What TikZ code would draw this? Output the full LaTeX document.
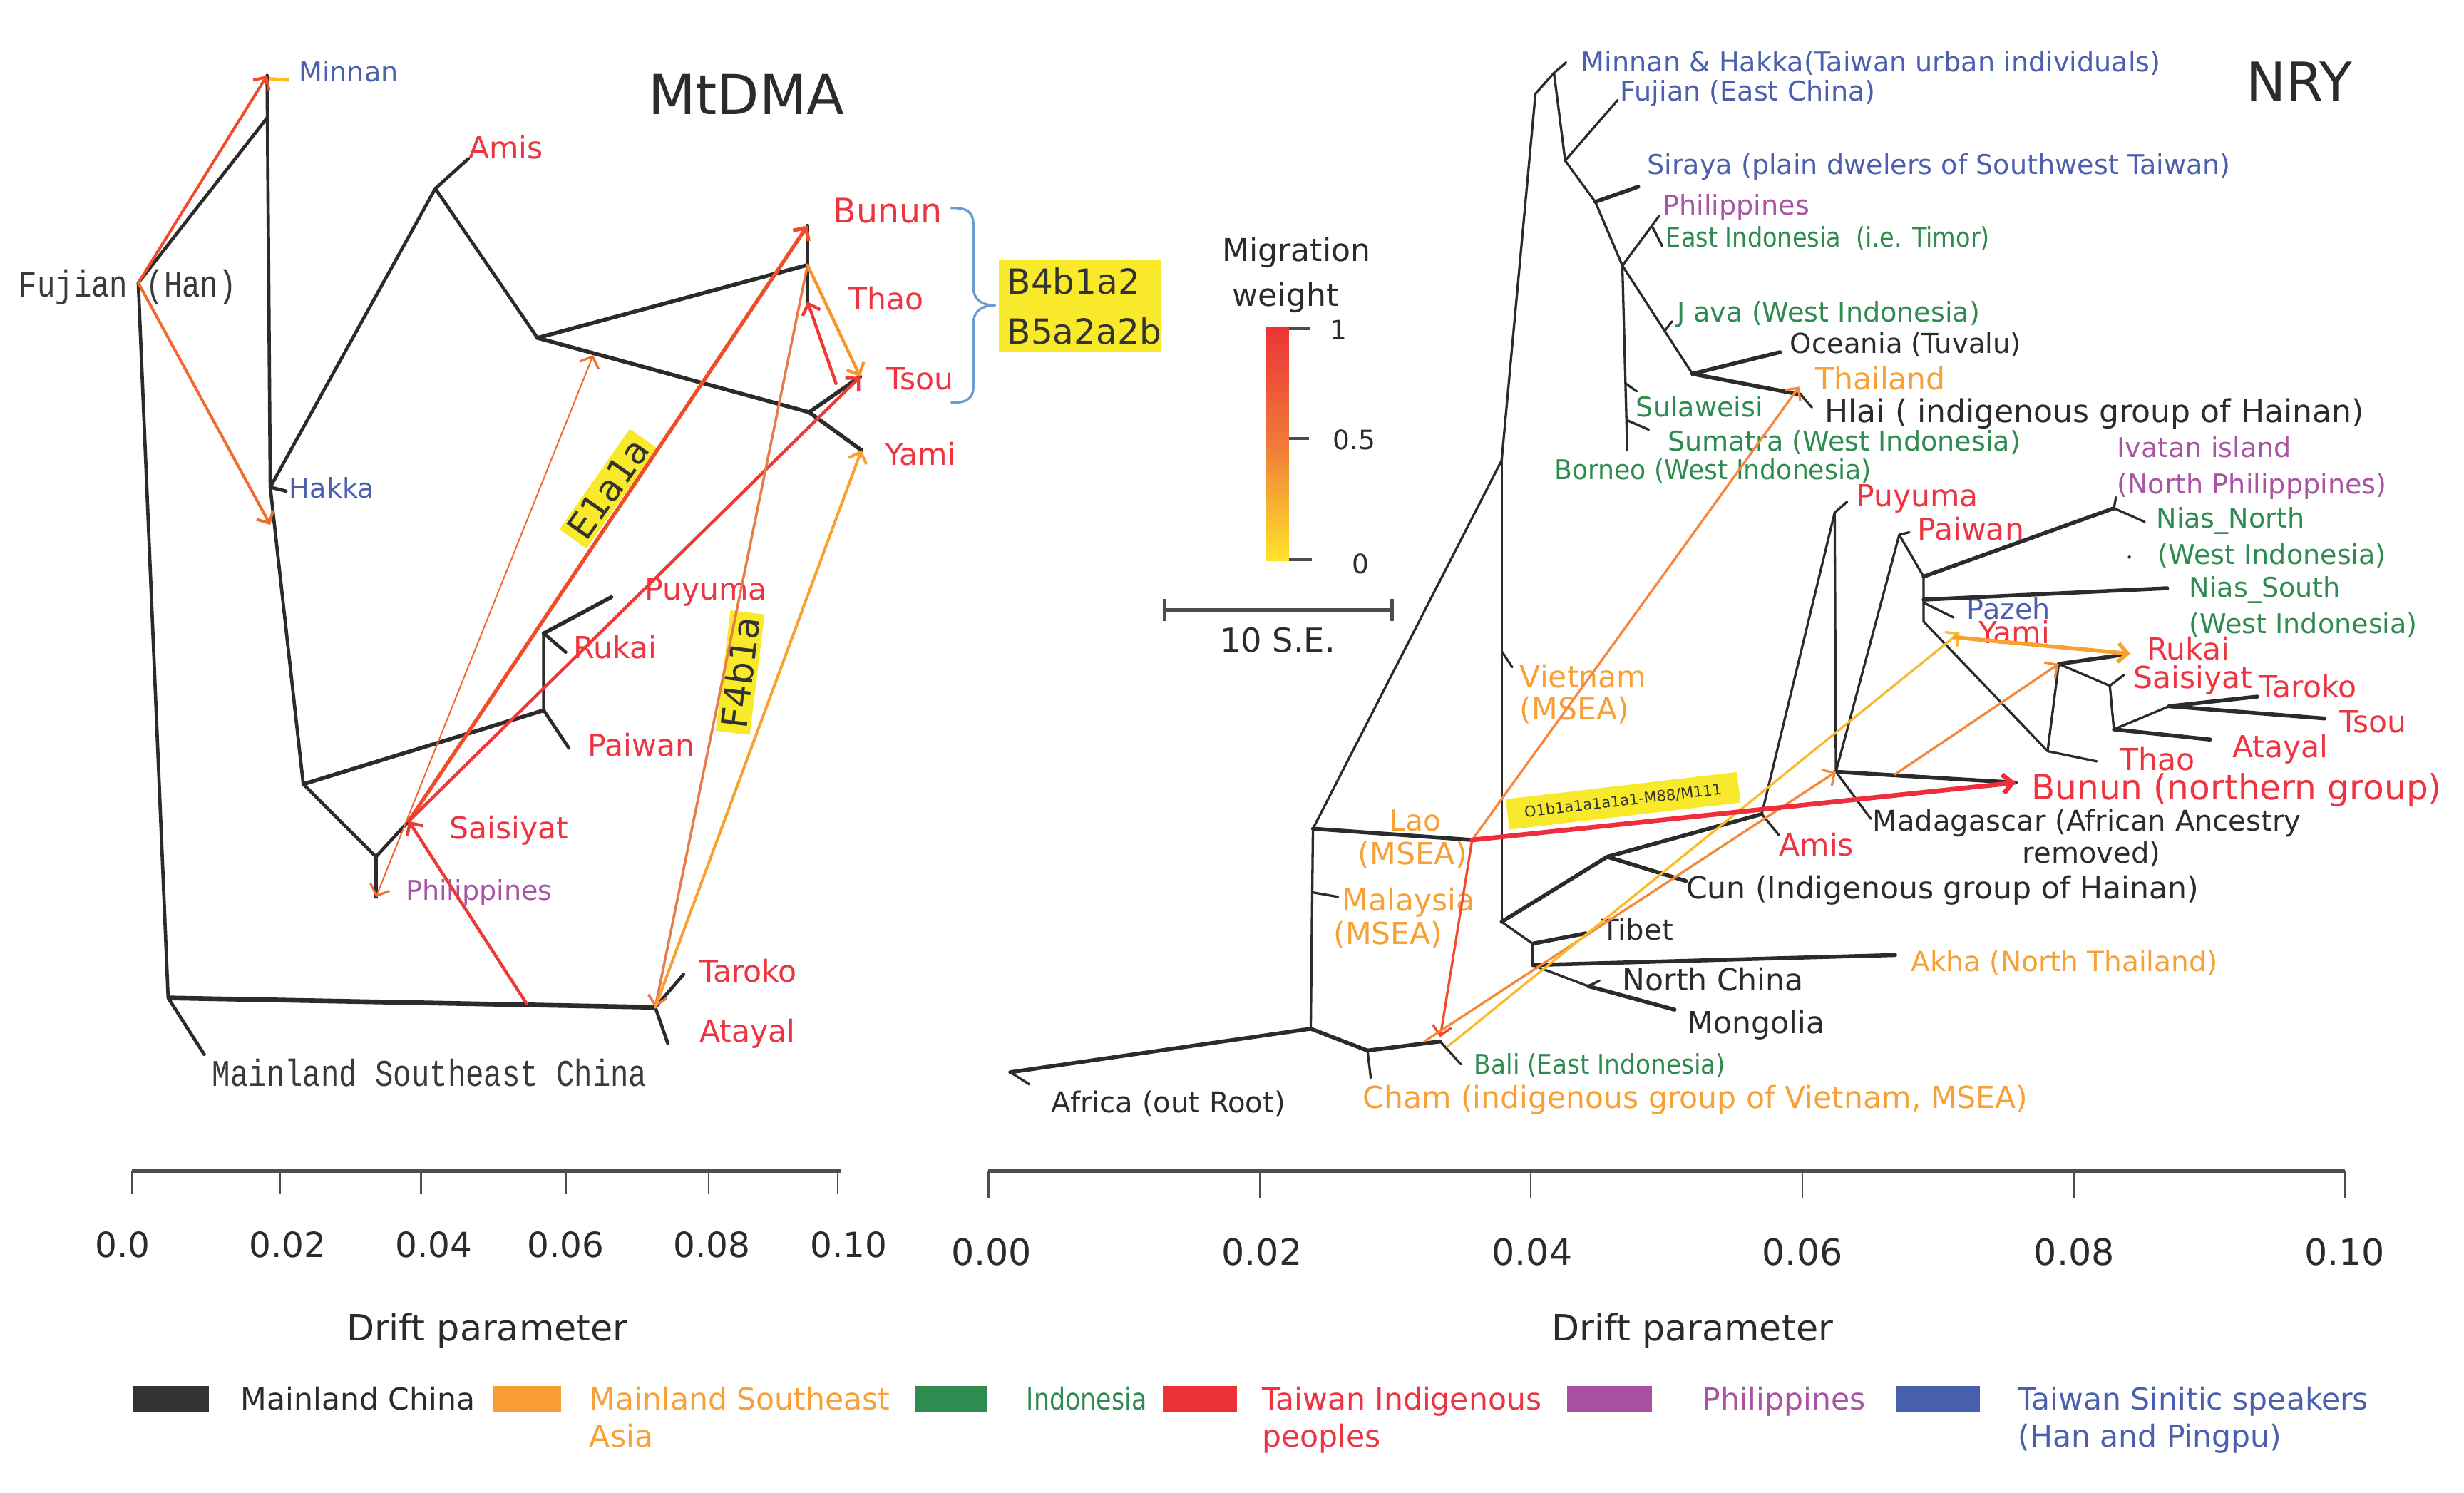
\documentclass[tikz,border=0pt]{standalone}
\usepackage{fontspec}
\usepackage{graphicx}
\setmainfont{DejaVu Sans}
\newfontfamily\monof[FakeStretch=0.8]{Liberation Mono}
\usetikzlibrary{arrows.meta}
\definecolor{treec}{HTML}{2B2B2B}
\definecolor{blk}{HTML}{2B2B2B}
\definecolor{monoc}{HTML}{3A3A3A}
\definecolor{twred}{HTML}{EE3440}
\definecolor{msea}{HTML}{F7A035}
\definecolor{indo}{HTML}{2E8B4F}
\definecolor{phil}{HTML}{A853A3}
\definecolor{sinb}{HTML}{4A60AE}
\definecolor{hl}{HTML}{F8EA2B}
\definecolor{hlt}{HTML}{333333}
\definecolor{brc}{HTML}{6B9BD2}
\definecolor{axc}{HTML}{4D4D4D}
\definecolor{lgBlk}{HTML}{333333}
\definecolor{lgOr}{HTML}{F89D35}
\definecolor{lgGr}{HTML}{2F8B50}
\definecolor{lgRd}{HTML}{ED3237}
\definecolor{lgPu}{HTML}{A8509F}
\definecolor{lgBl}{HTML}{4660AB}
\definecolor{cR}{HTML}{EE2E3A}
\definecolor{cRa}{HTML}{EE3A36}
\definecolor{cOR}{HTML}{F04C2C}
\definecolor{cOR2}{HTML}{F26A2C}
\definecolor{cO}{HTML}{F5883A}
\definecolor{cO2}{HTML}{F7952E}
\definecolor{cOr3}{HTML}{EA7A48}
\definecolor{cLO}{HTML}{F9A12E}
\definecolor{cY}{HTML}{FCB92C}
\definecolor{cbR}{HTML}{EC3338}
\definecolor{cbO}{HTML}{F07A38}
\definecolor{cbY}{HTML}{FFE42A}
\newcommand{\fS}{\fontsize{17.3}{20}\selectfont}
\newcommand{\fL}{\fontsize{19.3}{22}\selectfont}
\newcommand{\fM}{\monof\fontsize{24}{26}\selectfont}
\begin{document}
\begin{tikzpicture}[x=1pt,y=-1pt,
  tr/.style={draw=treec,line width=1.5pt,line cap=round,line join=round},
  trL/.style={draw=treec,line width=2.1pt,line cap=round,line join=round},
  trk/.style={draw=treec,line width=2.5pt,line cap=round,line join=round},
  lb/.style={anchor=base west,inner sep=0pt},
  cb/.style={anchor=base,inner sep=0pt},
  mg/.style={line cap=round,line join=round,-{Straight Barb[length=6pt,width=12pt]}},
  mgb/.style={line cap=round,{Straight Barb[length=6pt,width=13pt,line width=1.4pt]}-{Straight Barb[length=6pt,width=13pt,line width=1.4pt]}},
  hlbox/.style={fill=hl,text=hlt,inner xsep=3pt,inner ysep=2pt}]
\fill[white] (0,0) rectangle (1568,950);
\useasboundingbox (0,0) rectangle (1568,950);

% ================= MtDMA labels =================
\node[font=\fontsize{35}{40}\selectfont,text=blk] (tMt) at (475,60) {MtDMA};
\node[lb,font=\fS,text=sinb] (lMinnan) at (190,52) {Minnan};
\node[lb,font=\fL,text=twred] (lAmis) at (298,101) {Amis};
\node[lb,font=\fontsize{21.5}{24}\selectfont,text=twred] (lBunun) at (530,142) {Bunun};
\node[lb,font=\fL,text=twred] (lThao) at (540,197) {Thao};
\node[lb,font=\fL,text=twred] (lTsou) at (564,248) {Tsou};
\node[lb,font=\fL,text=twred] (lYami) at (563,296) {Yami};
\node[lb,font=\fM,text=monoc] (lFujian) at (12,189) {Fujian (Han)};
\node[lb,font=\fS,text=sinb] (lHakka) at (184,317) {Hakka};
\node[lb,font=\fL,text=twred] (lPuyuma) at (410,382) {Puyuma};
\node[lb,font=\fL,text=twred] (lRukai) at (365,419) {Rukai};
\node[lb,font=\fL,text=twred] (lPaiwan) at (374,481) {Paiwan};
\node[lb,font=\fL,text=twred] (lSaisiyat) at (286,534) {Saisiyat};
\node[lb,font=\fS,text=phil] (lPhil) at (258,573) {Philippines};
\node[lb,font=\fL,text=twred] (lTaroko) at (445,625) {Taroko};
\node[lb,font=\fL,text=twred] (lAtayal) at (445,663) {Atayal};
\node[lb,font=\fM,text=monoc] (lMSC) at (135,691) {Mainland Southeast China};

\node[fill=hl,text=hlt,inner sep=0pt,minimum width=103.3pt,minimum height=58.7pt,text width=93pt,align=left,font=\fontsize{22}{32}\selectfont] (hB) at (687.5,194.9) {B4b1a2\\B5a2a2b};
\draw[draw=brc,line width=1.5pt] (605,132.3) .. controls (615,132.3) and (619.5,134) .. (619.5,144) -- (619.5,183) .. controls (619.5,191) and (625,194.3) .. (633.6,194.3) .. controls (625,194.3) and (619.5,197.6) .. (619.5,205.6) -- (619.5,245) .. controls (619.5,254) and (615,256.3) .. (605,256.3);

\node[hlbox,rotate=55,font=\fontsize{23}{25}\selectfont] (hE) at (387,311) {E1a1a};
\node[hlbox,rotate=83,font=\fontsize{23}{25}\selectfont] (hF) at (471,428) {F4b1a};

% ================= MtDMA tree =================
\coordinate (mFJ) at (88,180);
\coordinate (mMNt) at (170,48);
\coordinate (mMNj) at (170,75);
\coordinate (mHKj) at (172,310);
\coordinate (mHKt) at (182,312.5);
\coordinate (mHKa) at (172,334);
\coordinate (mLJ) at (193,499);
\coordinate (mAMj) at (277,120);
\coordinate (mAMt) at (298,101);
\coordinate (mX) at (342,215);
\coordinate (mBTj) at (513.9,168.6);
\coordinate (mBUt) at (513.9,143.6);
\coordinate (mTHt) at (513.9,192);
\coordinate (mTYj) at (514.9,262.3);
\coordinate (mTSt) at (547.4,239.7);
\coordinate (mYMt) at (548.2,286.5);
\coordinate (mPRj) at (346,452);
\coordinate (mPWt) at (362,476);
\coordinate (mRPj) at (346,403);
\coordinate (mRKt) at (360,415);
\coordinate (mPYt) at (389,380);
\coordinate (mSPj) at (239.2,545.2);
\coordinate (mSAt) at (260.1,522.5);
\coordinate (mPHt) at (239.2,570.9);
\coordinate (mMSj) at (107,635);
\coordinate (mMSt) at (130,671);
\coordinate (mTAj) at (417,641);
\coordinate (mTRt) at (435,620);
\coordinate (mATt) at (425,664);
\coordinate (mXa) at (377.5,226);
\coordinate (mBase) at (335,638.5);
\coordinate (mTSa) at (532,244);
\coordinate (mY1) at (171,50);
\coordinate (mY2) at (184,51);

\draw[trL] (mFJ) -- (mMNj);
\draw[trL] (mMNt) -- (mHKj) -- (mLJ);
\draw[trL] (mHKj) -- (mHKt);
\draw[trL] (mHKj) -- (mAMj) -- (mAMt);
\draw[trL] (mAMj) -- (mX);
\draw[trk] (mX) -- (mBTj);
\draw[trk] (mBUt) -- (mTHt);
\draw[trk] (mX) -- (mTYj) -- (mTSt);
\draw[trk] (mTYj) -- (mYMt);
\draw[trk] (mLJ) -- (mPRj);
\draw[trL] (mPRj) -- (mPWt);
\draw[trL] (mPRj) -- (mRPj) -- (mRKt);
\draw[trk] (mRPj) -- (mPYt);
\draw[trL] (mLJ) -- (mSPj) -- (mSAt);
\draw[trL] (mSPj) -- (mPHt);
\draw[trL] (mFJ) -- (mMSj) -- (mMSt);
\draw[draw=treec,line width=3pt] (mMSj) -- (mTAj);
\draw[trL] (mTAj) -- (mTRt);
\draw[trL] (mTAj) -- (mATt);

% MtDMA migrations
\draw[draw=cY,line width=2pt] (mY1) -- (mY2);
\draw[mg,draw=cOR,line width=1.8pt] (mFJ) -- (mMNt);
\draw[mg,draw=cOR2,line width=1.8pt] (mFJ) -- (mHKa);
\draw[mgb,draw=cOR2,line width=0.9pt] (mPHt) -- (mXa);
\draw[mg,draw=cOR,line width=2.4pt] (mSAt) -- (mBUt);
\draw[mg,draw=cRa,line width=2pt] (mSAt) -- (mTSt);
\draw[mg,draw=cRa,line width=2pt] (mBase) -- (mSAt);
\draw[mg,draw=cO2,line width=2pt] (mBTj) -- (mTSt);
\draw[mg,draw=cRa,line width=2pt] (mTSa) -- (mTHt);
\draw[mg,draw=cOr3,line width=1.6pt] (mBTj) -- (mTAj);
\draw[mg,draw=cLO,line width=1.8pt] (mTAj) -- (mYMt);

% ================= NRY labels =================
\node[font=\fontsize{34}{38}\selectfont,text=blk] (tNRY) at (1463,52) {NRY};
\node[lb,font=\fS,text=sinb] (nlMH) at (1006,45.5) {Minnan \& Hakka(Taiwan urban individuals)};
\node[lb,font=\fS,text=sinb] (nlFj) at (1031,64) {Fujian (East China)};
\node[lb,font=\fS,text=sinb] (nlSir) at (1048,111) {Siraya (plain dwelers of Southwest Taiwan)};
\node[lb,font=\fS,text=phil] (nlPh) at (1058,137) {Philippines};
\node[lb,font=\fS,text=indo] (nlEI) at (1060,157) {\scalebox{0.88}[1]{East Indonesia\ \ (i.e. Timor)}};
\node[lb,font=\fS,text=indo] (nlJv) at (1067,205) {J ava (West Indonesia)};
\node[lb,font=\fontsize{17.5}{20}\selectfont,text=blk] (nlOc) at (1139,225) {Oceania (Tuvalu)};
\node[lb,font=\fL,text=msea] (nlTh) at (1155,248) {Thailand};
\node[lb,font=\fontsize{20}{22}\selectfont,text=blk] (nlHl) at (1161,269) {Hlai ( indigenous group of Hainan)};
\node[lb,font=\fS,text=indo] (nlSu) at (1041,265) {Sulaweisi};
\node[lb,font=\fS,text=indo] (nlSm) at (1061,287) {Sumatra (West Indonesia)};
\node[lb,font=\fS,text=indo] (nlBo) at (989,305) {\scalebox{0.95}[1]{Borneo (West Indonesia)}};
\node[lb,font=\fS,text=phil] (nlIv) at (1347,291) {Ivatan island};
\node[lb,font=\fS,text=phil] (nlIv2) at (1347,314) {(North Philipppines)};
\node[lb,font=\fS,text=indo] (nlNN) at (1372,336) {Nias\_North};
\node[lb,font=\fS,text=indo] (nlNN2) at (1373,359) {(West Indonesia)};
\node[lb,font=\fS,text=indo] (nlNS) at (1393,380) {Nias\_South};
\node[lb,font=\fS,text=indo] (nlNS2) at (1393,403) {(West Indonesia)};
\node[lb,font=\fL,text=twred] (nlPy) at (1181,322.5) {Puyuma};
\node[lb,font=\fL,text=twred] (nlPw) at (1220,343.5) {Paiwan};
\node[lb,font=\fontsize{18}{20}\selectfont,text=sinb] (nlPz) at (1251.5,394) {Pazeh};
\node[lb,font=\fL,text=twred] (nlYm) at (1259,409.5) {Yami};
\node[lb,font=\fL,text=twred] (nlRk) at (1366,420) {Rukai};
\node[lb,font=\fL,text=twred] (nlSs) at (1357.5,438) {Saisiyat};
\node[lb,font=\fL,text=twred] (nlTr) at (1437.5,444) {Taroko};
\node[lb,font=\fL,text=twred] (nlTs) at (1488.5,466) {Tsou};
\node[lb,font=\fL,text=twred] (nlAt) at (1420.5,482) {Atayal};
\node[lb,font=\fL,text=twred] (nlThao) at (1349,490) {Thao};
\node[lb,font=\fontsize{22}{24}\selectfont,text=twred] (nlBn) at (1292.5,509) {Bunun (northern group)};
\node[lb,font=\fontsize{18.2}{20}\selectfont,text=blk] (nlMd) at (1191.5,529) {Madagascar (African Ancestry};
\node[cb,font=\fontsize{18.2}{20}\selectfont,text=blk] (nlMd2) at (1331,549) {removed)};
\node[lb,font=\fL,text=twred] (nlAm) at (1132,544.7) {Amis};
\node[lb,font=\fL,text=blk] (nlCun) at (1072.8,572) {Cun (Indigenous group of Hainan)};
\node[lb,font=\fontsize{18.2}{20}\selectfont,text=blk] (nlTb) at (1019,598) {Tibet};
\node[lb,font=\fontsize{17.7}{20}\selectfont,text=msea] (nlAk) at (1216,618) {Akha (North Thailand)};
\node[lb,font=\fL,text=blk] (nlNC) at (1032.3,630.6) {North China};
\node[lb,font=\fL,text=blk] (nlMg) at (1073.7,657.5) {Mongolia};
\node[lb,font=\fS,text=indo] (nlBa) at (938,683.6) {\scalebox{0.9}[1]{Bali (East Indonesia)}};
\node[lb,font=\fL,text=msea] (nlCh) at (867,705.3) {Cham (indigenous group of Vietnam, MSEA)};
\node[lb,font=\fontsize{18.2}{20}\selectfont,text=blk] (nlAf) at (669,708) {Africa (out Root)};
\node[cb,font=\fontsize{18.5}{20}\selectfont,text=msea] (nlLao) at (900.5,528.7) {Lao};
\node[lb,font=\fL,text=msea] (nlLao2) at (864,550) {(MSEA)};
\node[lb,font=\fL,text=msea] (nlMy) at (854,579.4) {Malaysia};
\node[lb,font=\fL,text=msea] (nlMy2) at (848.5,601) {(MSEA)};
\node[lb,font=\fL,text=msea] (nlVt) at (967,437.6) {Vietnam};
\node[lb,font=\fL,text=msea] (nlVt2) at (967,458) {(MSEA)};

\node[fill=hl,text=hlt,rotate=6.7,minimum width=148pt,minimum height=19.5pt,inner sep=0pt,font=\fontsize{9.5}{11}\selectfont] (hO) at (1032.9,509.6) {O1b1a1a1a1a1-M88/M111};

% colour bar and scale
\node[cb,font=\fontsize{20}{22}\selectfont,text=blk] (cbT1) at (825,166.5) {Migration};
\node[cb,font=\fontsize{20}{22}\selectfont,text=blk] (cbT2) at (818,195) {weight};
\shade[top color=cbR,bottom color=cbY,middle color=cbO] (806,208) rectangle (820.2,357);
\draw[draw=axc,line width=2pt] (820.2,209) -- (834,209) (820.2,279) -- (833,279) (820.2,356) -- (835,356);
\node[cb,font=\fontsize{17}{20}\selectfont,text=blk] (cb1) at (852,216) {1};
\node[cb,font=\fontsize{17}{20}\selectfont,text=blk] (cb05) at (861.7,286) {0.5};
\node[cb,font=\fontsize{17}{20}\selectfont,text=blk] (cb0) at (865.8,365) {0};
\draw[draw=axc,line width=2.2pt] (741,381) -- (741,395) (741,388) -- (886,388) (886,381) -- (886,395);
\node[cb,font=\fontsize{21}{24}\selectfont,text=blk] (sbT) at (813,414.7) {10 S.E.};

% ================= NRY tree =================
\coordinate (nR) at (642.9,682.3);
\coordinate (nRt) at (655,690);
\coordinate (nLB) at (834.1,654.6);
\coordinate (nC1) at (870.2,668.5);
\coordinate (nChT) at (872.3,685.9);
\coordinate (nBJ) at (916.5,662.7);
\coordinate (nBaT) at (929.6,677.2);
\coordinate (nLJ) at (835.5,527.3);
\coordinate (nLaoT) at (936.8,534.5);
\coordinate (nMyJ) at (835.1,567.8);
\coordinate (nMyT) at (851.4,570.7);
\coordinate (nVJ) at (955.6,292.9);
\coordinate (nTJ) at (977.1,59.6);
\coordinate (nMHJ) at (988.9,46.4);
\coordinate (nMHT) at (996.6,39.8);
\coordinate (nJ1) at (996,102.2);
\coordinate (nFjT) at (1029.4,63.7);
\coordinate (nJ2) at (1015.2,128.5);
\coordinate (nSirT) at (1042.5,118.8);
\coordinate (nJ3) at (1032.4,169);
\coordinate (nPhT) at (1055.7,137.6);
\coordinate (nEIJ) at (1051.2,143.7);
\coordinate (nEIT) at (1057.7,156.5);
\coordinate (nJvJ) at (1059.3,210.6);
\coordinate (nJvT) at (1064,204.5);
\coordinate (nJ4) at (1077,237.9);
\coordinate (nOcT) at (1132.7,224.1);
\coordinate (nHJ) at (1145.9,251.1);
\coordinate (nHT) at (1153,259.2);
\coordinate (nBoT) at (1035.5,286.5);
\coordinate (nSuJ) at (1034.4,244);
\coordinate (nSuT) at (1041.5,249);
\coordinate (nSmJ) at (1035.1,267.3);
\coordinate (nSmT) at (1049.2,273.4);
\coordinate (nVtJ) at (955.6,414.4);
\coordinate (nVtT) at (962.3,424.5);
\coordinate (nCJ0) at (955.6,586.6);
\coordinate (nTbJ) at (975.3,600.5);
\coordinate (nTbT) at (1009.1,593.9);
\coordinate (nAkJ) at (975.3,614.1);
\coordinate (nAkT) at (1206,607.7);
\coordinate (nNCJ) at (1010.6,627.5);
\coordinate (nNCT) at (1017.8,624.1);
\coordinate (nMgT) at (1065.6,642.5);
\coordinate (nCunJ) at (1022.8,545.2);
\coordinate (nCunT) at (1072.8,560.6);
\coordinate (nAmJ) at (1121.1,518);
\coordinate (nAmT) at (1132.2,531.6);
\coordinate (nPyJ) at (1167.5,326.2);
\coordinate (nPyT) at (1175.5,319.2);
\coordinate (nBnJ) at (1168.3,491.1);
\coordinate (nBnT) at (1282.7,498);
\coordinate (nMdT) at (1190.5,521);
\coordinate (nPwT) at (1208.6,340.3);
\coordinate (nPwS) at (1215,338.7);
\coordinate (nPJ) at (1224.1,366.9);
\coordinate (nIvJ) at (1345.2,323.4);
\coordinate (nIvT) at (1346.5,316.5);
\coordinate (nNNT) at (1364.8,332.1);
\coordinate (nNSJ) at (1224.1,381.6);
\coordinate (nNST) at (1379.1,374.3);
\coordinate (nPzJ) at (1224.1,383.5);
\coordinate (nPzT) at (1243.1,392.9);
\coordinate (nPJb) at (1224.1,395.5);
\coordinate (nThJ) at (1303,478);
\coordinate (nThT) at (1334.3,484.5);
\coordinate (nRkJ) at (1310.1,422.5);
\coordinate (nRkT) at (1352,416.5);
\coordinate (nSsJ) at (1342.6,436.4);
\coordinate (nSsT) at (1351.7,429.4);
\coordinate (nTJ2) at (1345.2,464.1);
\coordinate (nTtJ) at (1380.4,449.4);
\coordinate (nTrT) at (1436.4,443.3);
\coordinate (nTsT) at (1479.3,457.2);
\coordinate (nAtT) at (1406.4,470.6);
\coordinate (nThA) at (1144.9,246);
\coordinate (nBaA) at (916.5,660);
\coordinate (nBsA) at (906.4,662.7);
\coordinate (nBsB) at (920.9,666.2);
\coordinate (nYmA) at (1247,402.5);
\coordinate (nBnA) at (1205.9,492.8);
\coordinate (nYmB) at (1243.7,405.5);
\coordinate (nRkA) at (1355.6,416);

\draw[trk] (nR) -- (nLB);
\draw[tr] (nR) -- (nRt);
\draw[trk] (nLB) -- (nC1);
\draw[tr] (nC1) -- (nChT);
\draw[trk] (nC1) -- (nBJ);
\draw[tr] (nBJ) -- (nBaT);
\draw[tr] (nLB) -- (nLJ);
\draw[tr] (nMyJ) -- (nMyT);
\draw[trk] (nLJ) -- (nLaoT);
\draw[tr] (nLJ) -- (nVJ) -- (nTJ) -- (nMHJ) -- (nMHT);
\draw[tr] (nMHJ) -- (nJ1) -- (nFjT);
\draw[tr] (nJ1) -- (nJ2);
\draw[trk] (nJ2) -- (nSirT);
\draw[tr] (nJ2) -- (nJ3) -- (nPhT);
\draw[tr] (nEIJ) -- (nEIT);
\draw[tr] (nJ3) -- (nJ4);
\draw[trk] (nJ4) -- (nOcT);
\draw[tr] (nJvJ) -- (nJvT);
\draw[trk] (nJ4) -- (nHJ);
\draw[tr] (nHJ) -- (nHT);
\draw[tr] (nJ3) -- (nBoT);
\draw[tr] (nSuJ) -- (nSuT);
\draw[tr] (nSmJ) -- (nSmT);
\draw[tr] (nVJ) -- (nCJ0);
\draw[tr] (nVtJ) -- (nVtT);
\draw[tr] (nCJ0) -- (nTbJ);
\draw[trk] (nTbJ) -- (nTbT);
\draw[tr] (nTbJ) -- (nAkJ);
\draw[trk] (nAkJ) -- (nAkT);
\draw[tr] (nAkJ) -- (nNCJ);
\draw[trk] (nNCJ) -- (nMgT);
\draw[tr] (nNCJ) -- (nNCT);
\draw[trk] (nCJ0) -- (nCunJ);
\draw[trk] (nCunJ) -- (nCunT);
\draw[trk] (nCunJ) -- (nAmJ);
\draw[tr] (nAmJ) -- (nAmT);
\draw[tr] (nAmJ) -- (nPyJ) -- (nPyT);
\draw[tr] (nPyJ) -- (nBnJ);
\draw[trk] (nBnJ) -- (nBnT);
\draw[tr] (nBnJ) -- (nMdT);
\draw[tr] (nBnJ) -- (nPwT) -- (nPwS);
\draw[tr] (nPwT) -- (nPJ) -- (nPJb);
\draw[trk] (nPJ) -- (nIvJ);
\draw[tr] (nIvJ) -- (nIvT);
\draw[tr] (nIvJ) -- (nNNT);
\draw[trk] (nNSJ) -- (nNST);
\draw[tr] (nPzJ) -- (nPzT);
\draw[tr] (nPJb) -- (nThJ) -- (nThT);
\draw[tr] (nThJ) -- (nRkJ);
\draw[trk] (nRkJ) -- (nRkT);
\draw[tr] (nRkJ) -- (nSsJ) -- (nSsT);
\draw[tr] (nSsJ) -- (nTJ2);
\draw[tr] (nTJ2) -- (nTtJ);
\draw[trk] (nTtJ) -- (nTrT);
\draw[trk] (nTtJ) -- (nTsT);
\draw[trk] (nTJ2) -- (nAtT);
\fill[treec] (1355,354.5) circle (1);

% NRY migrations
\draw[mg,draw=cO,line width=1.5pt] (nLaoT) -- (nThA);
\draw[mg,draw=cOR,line width=1.5pt] (nLaoT) -- (nBaA);
\draw[mg,draw=cO,line width=1.5pt] (nBsA) -- (nBnJ);
\draw[mg,draw=cY,line width=1.5pt] (nBsB) -- (nYmA);
\draw[mg,draw=cO,line width=1.5pt] (nBnA) -- (nRkJ);
\draw[mg,draw=cLO,line width=2.5pt] (nYmB) -- (nRkA);
\draw[mg,draw=cR,line width=3pt] (nLaoT) -- (nBnT);

% ================= axes =================
\draw[draw=axc,line width=2.8pt] (84,745) -- (535,745);
\foreach \x in {84,178,268,360,451,533} \draw[draw=axc,line width=1.1pt] (\x,745) -- (\x,760);
\draw[draw=axc,line width=2.8pt] (629,745) -- (1492,745);
\foreach \x in {629,802,974,1147,1320,1492} \draw[draw=axc,line width=1.1pt] (\x,745) -- (\x,762);
\node[cb,font=\fontsize{22}{24}\selectfont,text=blk] (ax1) at (78,800) {0.0};
\node[cb,font=\fontsize{22}{24}\selectfont,text=blk] (ax2) at (183,800) {0.02};
\node[cb,font=\fontsize{22}{24}\selectfont,text=blk] (ax3) at (276,800) {0.04};
\node[cb,font=\fontsize{22}{24}\selectfont,text=blk] (ax4) at (360,800) {0.06};
\node[cb,font=\fontsize{22}{24}\selectfont,text=blk] (ax5) at (453,800) {0.08};
\node[cb,font=\fontsize{22}{24}\selectfont,text=blk] (ax6) at (540,800) {0.10};
\node[cb,font=\fontsize{23}{25}\selectfont,text=blk] (bx1) at (631,805) {0.00};
\node[cb,font=\fontsize{23}{25}\selectfont,text=blk] (bx2) at (803,805) {0.02};
\node[cb,font=\fontsize{23}{25}\selectfont,text=blk] (bx3) at (975,805) {0.04};
\node[cb,font=\fontsize{23}{25}\selectfont,text=blk] (bx4) at (1147,805) {0.06};
\node[cb,font=\fontsize{23}{25}\selectfont,text=blk] (bx5) at (1320,805) {0.08};
\node[cb,font=\fontsize{23}{25}\selectfont,text=blk] (bx6) at (1492,805) {0.10};
\node[cb,font=\fontsize{23}{25}\selectfont,text=blk] (dp1) at (310,853) {Drift parameter};
\node[cb,font=\fontsize{23}{25}\selectfont,text=blk] (dp2) at (1077,853) {Drift parameter};

% ================= legend =================
\fill[lgBlk] (85,882) rectangle (133,899);
\fill[lgOr] (314,882) rectangle (357,899);
\fill[lgGr] (582,882) rectangle (628,899);
\fill[lgRd] (740,882) rectangle (787,899);
\fill[lgPu] (997,882) rectangle (1051,899);
\fill[lgBl] (1207,882) rectangle (1260,899);
\node[lb,font=\fL,text=blk] (lg1) at (153,897) {Mainland China};
\node[lb,font=\fL,text=msea] (lg2) at (375,897) {Mainland Southeast};
\node[lb,font=\fL,text=msea] (lg2b) at (375,921) {Asia};
\node[lb,font=\fL,text=indo] (lg3) at (653,897) {\scalebox{0.82}[1]{Indonesia}};
\node[lb,font=\fL,text=twred] (lg4) at (803,897) {Taiwan Indigenous};
\node[lb,font=\fL,text=twred] (lg4b) at (803,921) {peoples};
\node[lb,font=\fL,text=phil] (lg5) at (1083,897) {Philippines};
\node[lb,font=\fL,text=sinb] (lg6) at (1284,897) {Taiwan Sinitic speakers};
\node[lb,font=\fL,text=sinb] (lg6b) at (1284,921) {(Han and Pingpu)};
\end{tikzpicture}
\end{document}
